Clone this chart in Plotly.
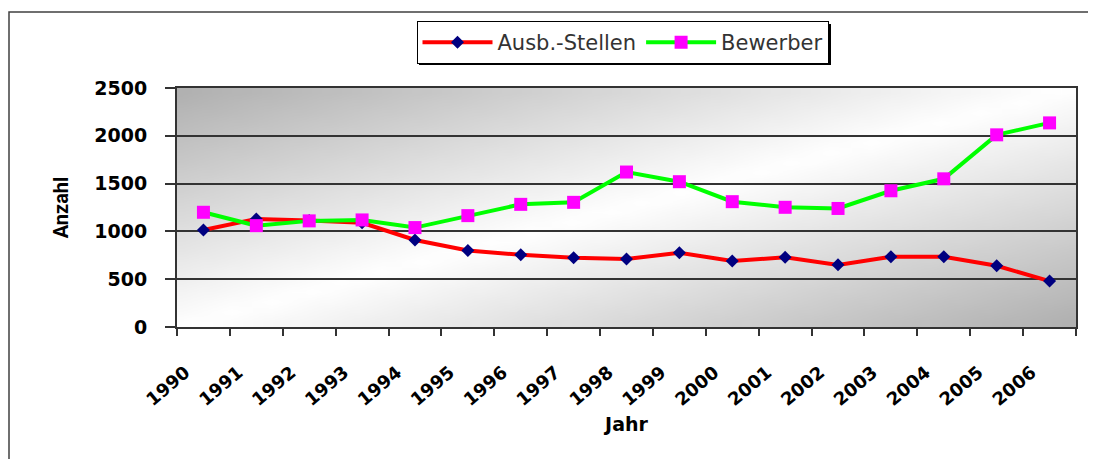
import base64, struct, zlib
import plotly.graph_objects as go

years = [str(y) for y in range(1990, 2007)]
ausb_stellen = [1015, 1130, 1115, 1090, 910, 800, 755, 725, 711, 777, 690, 729, 650, 735, 735, 640, 480]
bewerber = [1200, 1060, 1110, 1120, 1040, 1165, 1283, 1304, 1621, 1520, 1311, 1252, 1240, 1425, 1550, 2010, 2135]
y_ticks = [0, 500, 1000, 1500, 2000, 2500]

OFF = 8  # default body margin of the html page
W, H = 1096 - OFF, 459 - OFF
L, R, T, B = 177 - OFF, 1076 - OFF, 88 - OFF, 327 - OFF


def px_x(px):
    return (px - OFF - L) / (R - L)


def px_y(py):
    return (B - (py - OFF)) / (B - T)


def gradient_png(w, h):
    raw = bytearray()
    for j in range(h):
        raw.append(0)
        for i in range(w):
            u = (i + 0.5) / w
            v = (j + 0.5) / h
            t = (u + v) / 2
            d = abs(t - 0.5) * 2
            g = int(round(255 - 80 * d))
            raw += bytes((g, g, g))
    def chunk(tag, data):
        c = struct.pack(">I", len(data)) + tag + data
        return c + struct.pack(">I", zlib.crc32(tag + data) & 0xffffffff)
    png = b"\x89PNG\r\n\x1a\n"
    png += chunk(b"IHDR", struct.pack(">IIBBBBB", w, h, 8, 2, 0, 0, 0))
    png += chunk(b"IDAT", zlib.compress(bytes(raw), 9))
    png += chunk(b"IEND", b"")
    return "data:image/png;base64," + base64.b64encode(png).decode()


fig = go.Figure()
fig.add_trace(go.Scatter(
    x=years, y=ausb_stellen, name="Ausb.-Stellen", mode="lines+markers",
    line=dict(color="#FF0000", width=4),
    marker=dict(symbol="diamond", color="#000080", size=10),
))
fig.add_trace(go.Scatter(
    x=years, y=bewerber, name="Bewerber", mode="lines+markers",
    line=dict(color="#00FF00", width=4),
    marker=dict(symbol="square", color="#FF00FF", size=13),
))

# legend box (page pixels) for its drop shadow
LEG_X0, LEG_X1, LEG_Y0, LEG_Y1 = 416, 828, 21, 62
SH = 3

fig.update_layout(
    width=W, height=H,
    margin=dict(l=L, r=W - R, t=T, b=H - B, autoexpand=False),
    paper_bgcolor="#FFFFFF",
    plot_bgcolor="rgba(0,0,0,0)",
    showlegend=True,
    legend=dict(
        orientation="h", x=px_x(622.5), xanchor="center", y=px_y(LEG_Y0), yanchor="top",
        bgcolor="#FFFFFF", bordercolor="#000000", borderwidth=1,
        font=dict(family="DejaVu Sans", size=21, color="#333333"),
        itemwidth=70,
    ),
    xaxis=dict(
        type="category", range=[-0.5, 16.5], tickson="boundaries",
        ticks="outside", ticklen=7, tickwidth=1.5, tickcolor="#333333",
        showgrid=False, showline=True, linecolor="#333333", linewidth=2, mirror=True,
        tickangle=-40, tickfont=dict(family="DejaVu Sans", size=18, color="#000000", weight="bold"),
        ticklabelshift=-18, ticklabelstandoff=26,
        title=dict(text="Jahr", font=dict(family="DejaVu Sans", size=19, color="#000000", weight="bold"), standoff=9),
        zeroline=False,
    ),
    yaxis=dict(
        range=[0, 2500], tickvals=y_ticks,
        ticks="outside", ticklen=10, tickwidth=1.5, tickcolor="#333333",
        showgrid=True, gridcolor="#333333", gridwidth=1.5,
        showline=True, linecolor="#333333", linewidth=2, mirror=True,
        tickfont=dict(family="DejaVu Sans", size=19, color="#000000", weight="bold"),
        ticklabelstandoff=14,
        title=dict(text="Anzahl", font=dict(family="Roboto", size=20, color="#000000", weight="bold"), standoff=20),
        zeroline=False,
    ),
    images=[dict(
        source=gradient_png(90, 24), xref="paper", yref="paper",
        x=0, y=1, sizex=1, sizey=1, xanchor="left", yanchor="top",
        sizing="stretch", layer="below",
    )],
    shapes=[
        dict(
            type="rect", xref="paper", yref="paper",
            x0=px_x(9), x1=px_x(1120), y0=px_y(480), y1=px_y(12),
            line=dict(color="#404040", width=1.5), fillcolor="rgba(0,0,0,0)", layer="below",
        ),
        dict(
            type="rect", xref="paper", yref="paper",
            x0=px_x(LEG_X0 + SH), x1=px_x(LEG_X1 + SH), y0=px_y(LEG_Y1 + SH), y1=px_y(LEG_Y0 + SH),
            line=dict(width=0), fillcolor="#000000", layer="above",
        ),
    ],
)

fig.write_html("out.html")
